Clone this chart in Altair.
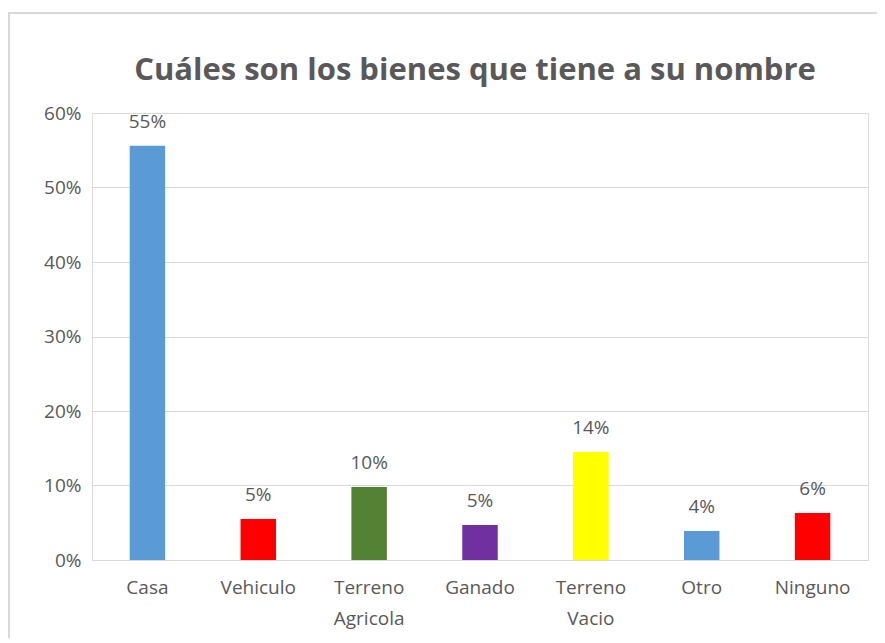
import altair as alt
import pandas as pd

categorias = ["Casa", "Vehiculo", "Terreno Agricola", "Ganado", "Terreno Vacio", "Otro", "Ninguno"]
valores = [0.556, 0.055, 0.098, 0.047, 0.145, 0.039, 0.063]
etiquetas = ["55%", "5%", "10%", "5%", "14%", "4%", "6%"]
colores = ["#5B9BD5", "#FF0000", "#548235", "#7030A0", "#FFFF00", "#5B9BD5", "#FF0000"]
titulo = "Cuáles son los bienes que tiene a su nombre"

df = pd.DataFrame({"cat": categorias, "val": valores, "lab": etiquetas, "col": colores})

FONT = "Open Sans"
GRAY = "#595959"

x = alt.X("cat:N", sort=categorias, title=None,
          scale=alt.Scale(paddingInner=0.68, paddingOuter=0.34),
          axis=alt.Axis(labelAngle=0, ticks=False, domain=False, labelFont=FONT,
                        labelFontSize=19, labelColor=GRAY, labelPadding=18,
                        labelLineHeight=31,
                        labelExpr="split(datum.label, ' ')"))
y = alt.Y("val:Q", title=None,
          scale=alt.Scale(domain=[0, 0.6], nice=False),
          axis=alt.Axis(format=".0%", values=[0, 0.1, 0.2, 0.3, 0.4, 0.5, 0.6],
                        ticks=False, domain=False, labelFont=FONT, labelFontSize=19,
                        labelColor=GRAY, labelPadding=11, gridColor="#d9d9d9",
                        gridWidth=1))

bars = alt.Chart(df).mark_bar().encode(
    x=x, y=y, color=alt.Color("col:N", scale=None))

text = alt.Chart(df).mark_text(baseline="alphabetic", dy=-18, font=FONT, fontSize=19,
                               color=GRAY).encode(
    x=alt.X("cat:N", sort=categorias), y="val:Q", text="lab:N")

border = alt.Chart(df).mark_rect(fill=None, stroke="#d9d9d9", strokeWidth=2).encode(
    x=alt.value(-83), x2=alt.value(900), y=alt.value(-100), y2=alt.value(700))

title = alt.Chart(pd.DataFrame({"t": [titulo]})).mark_text(
    font=FONT, fontSize=31, fontWeight="bold", color=GRAY, align="center",
    baseline="alphabetic").encode(
    x=alt.value(383), y=alt.value(-33), text="t:N")

chart = alt.layer(border, bars, text, title).properties(
    width=776, height=447,
    autosize=alt.AutoSizeParams(type="none"),
    padding={"left": 84, "top": 105, "right": 9, "bottom": 78},
).configure_view(stroke=None).configure(background="white")

chart.save("out.html", embed_options={"renderer": "svg", "actions": False})
